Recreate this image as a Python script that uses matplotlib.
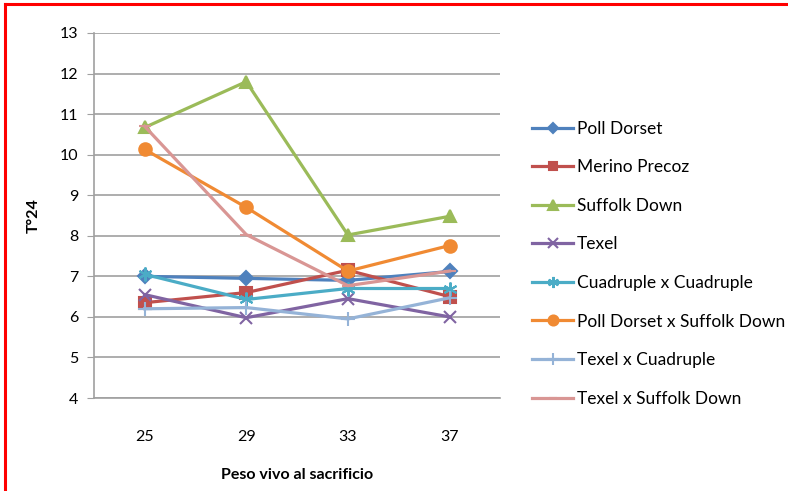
import numpy as np
import matplotlib.pyplot as plt

plt.rcParams['font.family'] = ['Lato', 'DejaVu Sans']

# Data
categories = ['25', '29', '33', '37']
series_names = ['Poll Dorset', 'Merino Precoz', 'Suffolk Down', 'Texel',
                'Cuadruple x Cuadruple', 'Poll Dorset x Suffolk Down',
                'Texel x Cuadruple', 'Texel x Suffolk Down']
poll_dorset = [7.0, 6.95, 6.9, 7.12]
merino_precoz = [6.35, 6.6, 7.15, 6.5]
suffolk_down = [10.67, 11.8, 8.02, 8.48]
texel = [6.55, 5.98, 6.45, 6.0]
cuadruple = [7.05, 6.43, 6.7, 6.7]
pd_x_suffolk = [10.13, 8.7, 7.13, 7.76]
texel_x_cuad = [6.2, 6.23, 5.95, 6.47]
texel_x_suffolk = [10.7, 8.03, 6.77, 7.13]

values = [poll_dorset, merino_precoz, suffolk_down, texel, cuadruple,
          pd_x_suffolk, texel_x_cuad, texel_x_suffolk]
colors = ['#4F81BD', '#C0504D', '#9BBB59', '#8064A2', '#4BACC6',
          '#F08A33', '#95B3D7', '#D99694']
markers = ['D', 's', '^', 'x', (6, 2, 0), 'o', '+', '_']
msizes = [7, 8, 9, 9, 10, 9, 10, 8]

fig = plt.figure(figsize=(7.88, 4.91), dpi=100)
ax = fig.add_axes([0.119, 0.1894, 0.516, 0.7434])

x = np.arange(len(categories))
for name, vals, c, m, ms in zip(series_names, values, colors, markers, msizes):
    ax.plot(x, vals, color=c, lw=2.3, marker=m, markersize=ms,
            markeredgewidth=1.5, markeredgecolor=c, markerfacecolor=c, label=name)

ax.set_xlim(-0.5, 3.5)
ax.set_ylim(4, 13)
ax.set_yticks(range(4, 14))
ax.set_xticks(x)
ax.set_xticklabels(categories)
ax.tick_params(axis='x', length=0, labelsize=11.5, pad=23)
ax.tick_params(axis='y', length=5, color='#A0A0A0', labelsize=11.5, pad=6)
ax.grid(axis='y', color='#A0A0A0', lw=1.2)
ax.set_axisbelow(True)
for s in ['top', 'right']:
    ax.spines[s].set_visible(False)
for s in ['left', 'bottom']:
    ax.spines[s].set_color('#A0A0A0')
    ax.spines[s].set_linewidth(1.2)

ax.set_ylabel('T°24', fontsize=11.5, fontweight='bold', labelpad=14)
ax.set_xlabel('Peso vivo al sacrificio', fontsize=11.5, fontweight='bold', labelpad=17)

fig.legend(loc='upper left', bbox_to_anchor=(0.655, 0.786), frameon=False,
           fontsize=12.5, labelspacing=1.3, handlelength=2.4, handletextpad=0.2,
           markerscale=0.8)

# red frame (top and left edges)
fig.add_artist(plt.Line2D([0.006, 1.0], [0.991, 0.991], color='red', lw=2.2,
                          transform=fig.transFigure))
fig.add_artist(plt.Line2D([0.006, 0.006], [0.0, 0.991], color='red', lw=2.2,
                          transform=fig.transFigure))

plt.savefig('out.png', dpi=100)
